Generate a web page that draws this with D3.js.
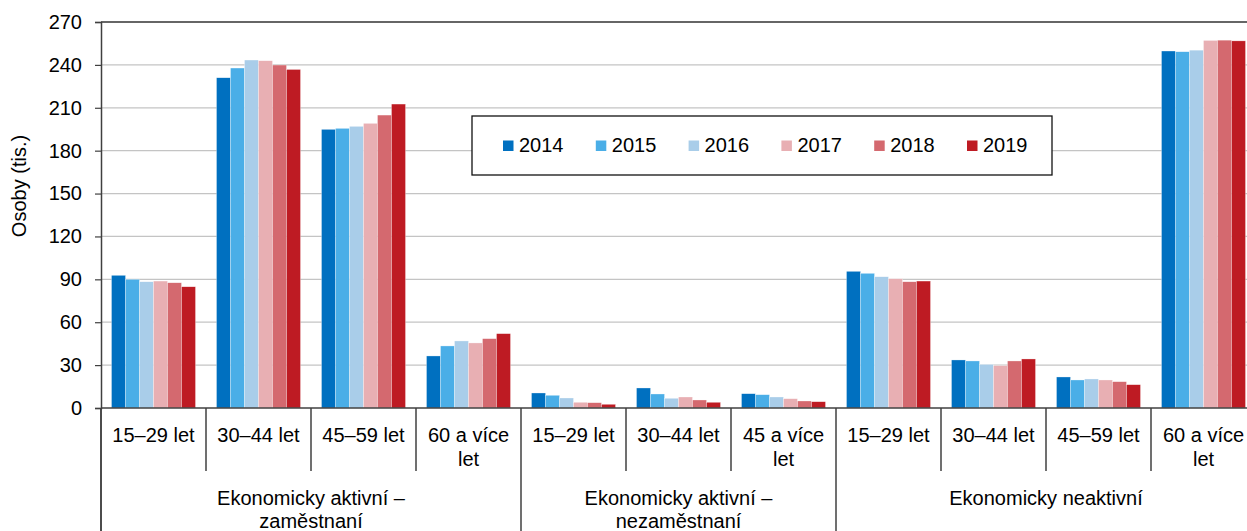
<!DOCTYPE html>
<html>
<head>
<meta charset="utf-8">
<script src="https://cdn.jsdelivr.net/npm/d3@7"></script>
<style>
  body { margin: 0; overflow: hidden; background: #fff; }
  text { font-family: "Liberation Sans", Arial, sans-serif; font-size: 20px; fill: #000; }
</style>
</head>
<body>
<div id="my_dataviz"></div>
<script>

// data (thousands of persons)
var years = ["2014", "2015", "2016", "2017", "2018", "2019"];
var subLabels = ["15–29 let", "30–44 let", "45–59 let", "60 a více let",
                 "15–29 let", "30–44 let", "45 a více let",
                 "15–29 let", "30–44 let", "45–59 let", "60 a více let"];
var groupLabels = ["Ekonomicky aktivní – zaměstnaní", "Ekonomicky aktivní – nezaměstnaní", "Ekonomicky neaktivní"];
var groupSizes = [4, 3, 4];

var v2014 = [92.8, 231.0, 194.9, 36.4, 10.5, 14.0, 10.0, 95.6, 33.6, 21.7, 249.7];
var v2015 = [90.0, 237.8, 195.6, 43.4, 8.9, 9.8, 9.3, 94.2, 32.9, 19.6, 249.2];
var v2016 = [88.3, 243.4, 197.0, 46.9, 7.0, 6.8, 7.7, 91.8, 30.5, 20.3, 250.3];
var v2017 = [88.8, 242.9, 199.1, 45.5, 4.0, 7.7, 6.5, 90.4, 29.6, 19.6, 257.1];
var v2018 = [87.6, 239.9, 204.9, 48.5, 3.7, 5.6, 4.9, 88.3, 32.9, 18.4, 257.3];
var v2019 = [84.8, 236.8, 212.6, 52.0, 2.6, 4.0, 4.4, 88.8, 34.3, 16.3, 256.8];

var yTicks = [0, 30, 60, 90, 120, 150, 180, 210, 240, 270];
var colors = ["#0070c0", "#4aaee7", "#a9cde9", "#e8afb3", "#d4696f", "#be1b23"];

var series = [v2014, v2015, v2016, v2017, v2018, v2019];

// dimensions (the plot area runs a little past the right edge, as in the original)
var margin = {top: 22, left: 101},
    width = 1155,
    height = 386;

var svg = d3.select("#my_dataviz")
    .append("svg")
    .attr("width", 1247)
    .attr("height", 531);

var g = svg.append("g")
    .attr("transform", "translate(" + margin.left + "," + margin.top + ")");

// scales
var x = d3.scaleBand()
    .domain(d3.range(subLabels.length))
    .range([0, width]);

var xSub = d3.scaleBand()
    .domain(years)
    .range([0, x.bandwidth()])
    .paddingOuter(0.75);

var y = d3.scaleLinear()
    .domain([0, 270])
    .range([height, 0]);

// gridlines
g.append("g")
    .selectAll("line")
    .data(yTicks.slice(1, -1))
    .enter().append("line")
    .attr("x1", 0)
    .attr("x2", width)
    .attr("y1", function(d) { return y(d); })
    .attr("y2", function(d) { return y(d); })
    .attr("stroke", "#c4c4c4")
    .attr("stroke-width", 1.2);

// top border of the plot area
g.append("line")
    .attr("x1", 0).attr("x2", width)
    .attr("y1", y(270)).attr("y2", y(270))
    .attr("stroke", "#333")
    .attr("stroke-width", 1.5);

// bars
var rows = [];
series.forEach(function(vals, s) {
    vals.forEach(function(v, i) {
        rows.push({cat: i, year: years[s], value: v, color: colors[s]});
    });
});

g.append("g")
    .selectAll("rect")
    .data(rows)
    .enter().append("rect")
    .attr("x", function(d) { return x(d.cat) + xSub(d.year); })
    .attr("y", function(d) { return y(d.value); })
    .attr("width", xSub.bandwidth())
    .attr("height", function(d) { return y(0) - y(d.value); })
    .attr("fill", function(d) { return d.color; })
    .attr("stroke", "#fff")
    .attr("stroke-width", 0.5)
    .attr("stroke-opacity", 0.6);

// Y axis
var yAxis = g.append("g")
    .call(d3.axisLeft(y).tickValues(yTicks).tickSize(6).tickPadding(13));
yAxis.select(".domain").attr("stroke", "#404040").attr("stroke-width", 1.5);
yAxis.selectAll(".tick line").attr("stroke", "#404040").attr("stroke-width", 1.2);
yAxis.selectAll("text")
    .style("font-family", "'Liberation Sans', Arial, sans-serif")
    .style("font-size", "20px")
    .attr("fill", "#000");

// the axis line continues down through the category labels
g.append("line")
    .attr("x1", 0).attr("x2", 0)
    .attr("y1", height).attr("y2", 531 - margin.top)
    .attr("stroke", "#404040")
    .attr("stroke-width", 1.5);

// X axis with wrapped sub category labels
var xAxis = g.append("g")
    .attr("transform", "translate(0," + height + ")")
    .call(d3.axisBottom(x).tickSize(0).tickPadding(0).tickFormat(function(i) { return subLabels[i]; }));
xAxis.select(".domain").remove();
g.append("line")
    .attr("x1", 0).attr("x2", width)
    .attr("y1", height).attr("y2", height)
    .attr("stroke", "#404040")
    .attr("stroke-width", 1.5);

xAxis.selectAll("text")
    .style("font-family", "'Liberation Sans', Arial, sans-serif")
    .style("font-size", "20px")
    .attr("fill", "#000")
    .attr("dy", null)
    .call(wrap, 98, 34, 23.5);

// separators between categories, longer ones between groups
var bounds = [0];
groupSizes.forEach(function(n) { bounds.push(bounds[bounds.length - 1] + n); });

g.append("g")
    .selectAll("line")
    .data(d3.range(subLabels.length + 1))
    .enter().append("line")
    .attr("x1", function(i) { return i < subLabels.length ? x(i) : width; })
    .attr("x2", function(i) { return i < subLabels.length ? x(i) : width; })
    .attr("y1", height)
    .attr("y2", function(i) { return bounds.indexOf(i) >= 0 ? 531 - margin.top : height + 63; })
    .attr("stroke", "#404040")
    .attr("stroke-width", 1.5);

// group labels
g.append("g")
    .selectAll("text")
    .data(groupLabels)
    .enter().append("text")
    .attr("x", function(d, k) {
        var x0 = x(bounds[k]);
        var x1 = bounds[k + 1] < subLabels.length ? x(bounds[k + 1]) : width;
        return (x0 + x1) / 2;
    })
    .attr("y", height + 97)
    .attr("text-anchor", "middle")
    .text(function(d) { return d; })
    .call(wrap, 230, 0, 23);

// y axis title
svg.append("text")
    .attr("transform", "translate(26,186) rotate(-90)")
    .attr("text-anchor", "middle")
    .text("Osoby (tis.)");

// legend
var legend = svg.append("g");
legend.append("rect")
    .attr("x", 472)
    .attr("y", 116)
    .attr("width", 580)
    .attr("height", 59)
    .attr("fill", "#fff")
    .attr("stroke", "#111")
    .attr("stroke-width", 1.3);

var lx = d3.scalePoint().domain(years).range([503, 967]);

var item = legend.selectAll(".item")
    .data(years)
    .enter().append("g")
    .attr("class", "item")
    .attr("transform", function(d) { return "translate(" + lx(d) + ",0)"; });

item.append("rect")
    .attr("x", 0)
    .attr("y", 140.5)
    .attr("width", 10.5)
    .attr("height", 10.5)
    .attr("fill", function(d, i) { return colors[i]; });

item.append("text")
    .attr("x", 16)
    .attr("y", 151.5)
    .text(function(d) { return d; });

// word wrap for labels
function wrap(selection, maxWidth, firstY, lineHeight) {
    selection.each(function() {
        var text = d3.select(this),
            words = text.text().split(/\s+/),
            line = [],
            lines = [];
        var probe = text.text(null).append("tspan");
        words.forEach(function(w) {
            line.push(w);
            probe.text(line.join(" "));
            if (probe.node().getComputedTextLength() > maxWidth && line.length > 1) {
                line.pop();
                lines.push(line.join(" "));
                line = [w];
            }
        });
        lines.push(line.join(" "));
        probe.remove();
        var x0 = text.attr("x") || 0;
        lines.forEach(function(l, k) {
            text.append("tspan")
                .attr("x", x0)
                .attr("y", firstY === 0 ? null : firstY + k * lineHeight)
                .attr("dy", firstY === 0 ? (k === 0 ? 0 : lineHeight) : null)
                .text(l);
        });
    });
}

</script>
</body>
</html>
